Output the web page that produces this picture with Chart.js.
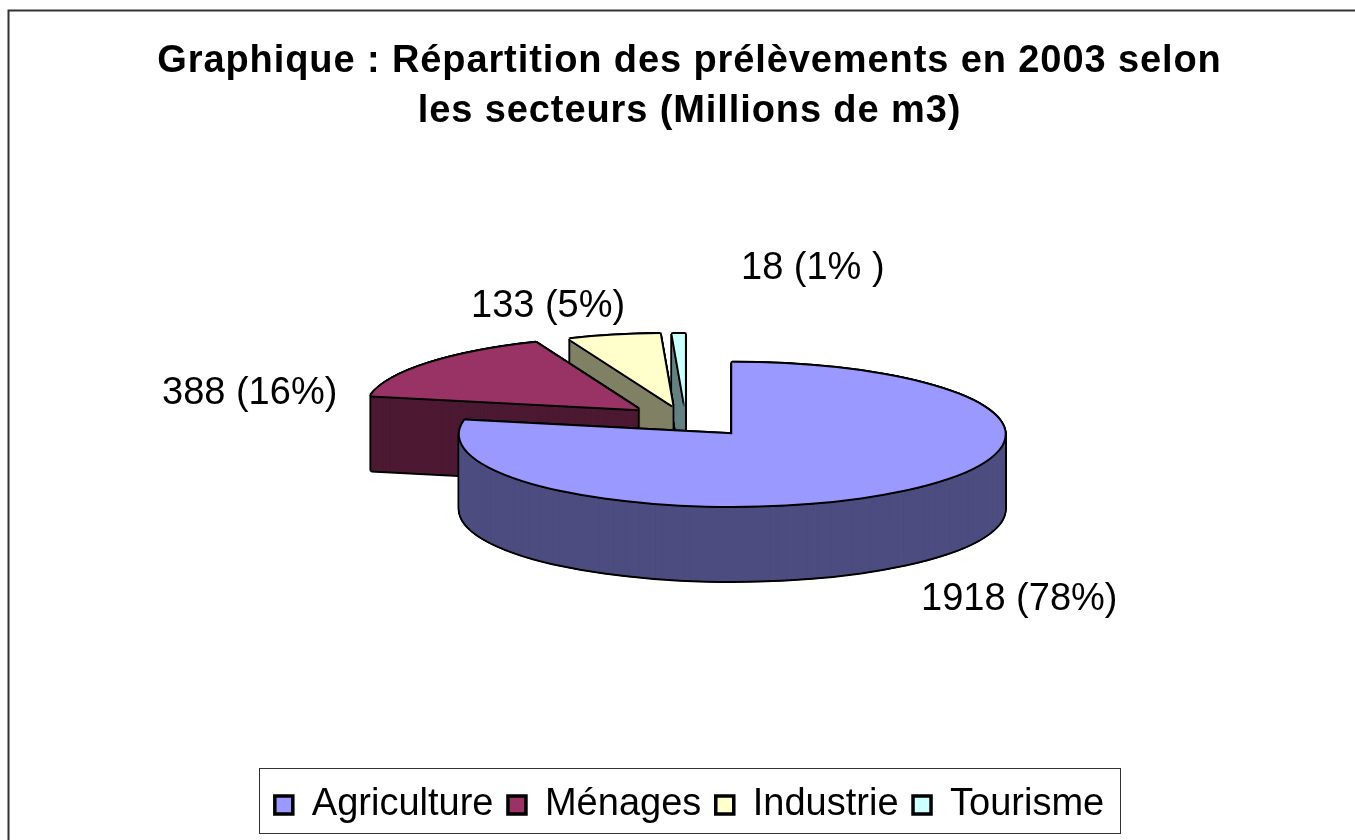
<!DOCTYPE html>
<html>
<head>
<meta charset="utf-8">
<style>html,body{margin:0;padding:0;background:#fff}canvas{display:block}</style>
<script src="https://cdn.jsdelivr.net/npm/chart.js@4"></script>
</head>
<body>
<div style="width:1355px;height:840px"><canvas id="c" width="1355" height="840"></canvas></div>
<script>
const categories = ["Agriculture", "Ménages", "Industrie", "Tourisme"];
const values = [1918, 388, 133, 18];
const sliceLabels = ["1918 (78%)", "388 (16%)", "133 (5%)", "18 (1% )"];
const titleLines = ["Graphique : Répartition des prélèvements en 2003 selon", "les secteurs (Millions de m3)"];
const topColors = ["#9999FF", "#993366", "#FFFFCC", "#CCFFFF"];
const wallColors = ["#4D4D80", "#4D1A33", "#808066", "#668080"];

const FONT = "'Liberation Sans', Arial, sans-serif";
const PIE = {cx: 689, cy: 420.5, squash: 0.263, depth: 75, explode: 68, radius: 272.5};
const drawOrder = [3, 2, 1, 0];
const sliceNudge = [[0, 0], [2, 0], [-2, 2.5], [-2.5, 3]];
const labelPos = [[921, 610], [162, 404], [471, 317], [741, 279]];
const w = 2, q = 1.4;
const ring = [[-w,0],[w,0],[0,-w],[0,w],[-q,-q],[q,-q],[-q,q],[q,q]];

function paintArc(ctx, arc, i, dx, dy, color) {
  const mid = (arc.startAngle + arc.endAngle) / 2;
  const ox = Math.cos(mid) * PIE.explode + sliceNudge[i][0];
  const oy = Math.sin(mid) * PIE.explode * PIE.squash + sliceNudge[i][1];
  ctx.save();
  ctx.translate(PIE.cx + ox + dx, PIE.cy + oy + dy);
  ctx.scale(1, PIE.squash);
  ctx.translate(-arc.x, -arc.y);
  const saved = arc.options;
  arc.options = Object.assign({}, saved, {backgroundColor: color, borderWidth: 0, offset: 0});
  arc.draw(ctx);
  arc.options = saved;
  ctx.restore();
}

const pie3d = {
  id: 'pie3d',
  beforeDraw(chart) {
    const tb = chart.titleBlock;
    if (tb && !tb._spaced) {
      const orig = tb.draw.bind(tb);
      tb.draw = function () {
        chart.ctx.save();
        chart.ctx.letterSpacing = '0.9px';
        orig();
        chart.ctx.restore();
        chart.ctx.letterSpacing = '0px';
      };
      tb._spaced = true;
    }
  },
  beforeDatasetsDraw(chart) {
    const ctx = chart.ctx, arcs = chart.getDatasetMeta(0).data;
    drawOrder.forEach(i => {
      const arc = arcs[i];
      for (let d = 0; d <= PIE.depth; d++) ring.forEach(r => paintArc(ctx, arc, i, r[0], d + r[1], '#000'));
      for (let d = PIE.depth; d >= 0.5; d -= 0.5) paintArc(ctx, arc, i, 0, d, wallColors[i]);
      ring.forEach(r => paintArc(ctx, arc, i, r[0], r[1], '#000'));
      paintArc(ctx, arc, i, 0, 0, topColors[i]);
    });
    return false;
  },
  afterDraw(chart) {
    const ctx = chart.ctx;
    ctx.save();
    ctx.fillStyle = '#000';
    ctx.font = "38px " + FONT;
    ctx.textAlign = 'left';
    ctx.textBaseline = 'alphabetic';
    sliceLabels.forEach((t, i) => ctx.fillText(t, labelPos[i][0], labelPos[i][1]));
    ctx.strokeStyle = '#333';
    ctx.lineWidth = 1;
    ctx.strokeRect(259.5, 768.5, 861, 65);
    ctx.lineWidth = 2;
    ctx.beginPath();
    ctx.moveTo(8.5, 840); ctx.lineTo(8.5, 10.5); ctx.lineTo(1355, 10.5);
    ctx.stroke();
    ctx.restore();
  }
};

new Chart(document.getElementById('c'), {
  type: 'pie',
  data: {
    labels: categories,
    datasets: [{data: values, backgroundColor: topColors, borderWidth: 0, offset: 0, radius: PIE.radius}]
  },
  options: {
    responsive: false,
    animation: false,
    events: [],
    layout: {padding: {left: 24, top: 0, bottom: 6}},
    plugins: {
      tooltip: {enabled: false},
      title: {
        display: true,
        text: titleLines,
        color: '#000',
        font: {family: FONT, size: 38, weight: 'bold', lineHeight: 1.33},
        padding: {top: 36, bottom: 10}
      },
      legend: {
        display: true,
        position: 'bottom',
        labels: {
          color: '#000',
          font: {family: FONT, size: 38},
          boxWidth: 18, boxHeight: 18, padding: 14.5,
          generateLabels(chart) {
            return categories.map((c, i) => ({
              text: c, fillStyle: topColors[i], strokeStyle: '#000', lineWidth: 3.5, index: i, hidden: false
            }));
          }
        }
      }
    }
  },
  plugins: [pie3d]
});
</script>
</body>
</html>
